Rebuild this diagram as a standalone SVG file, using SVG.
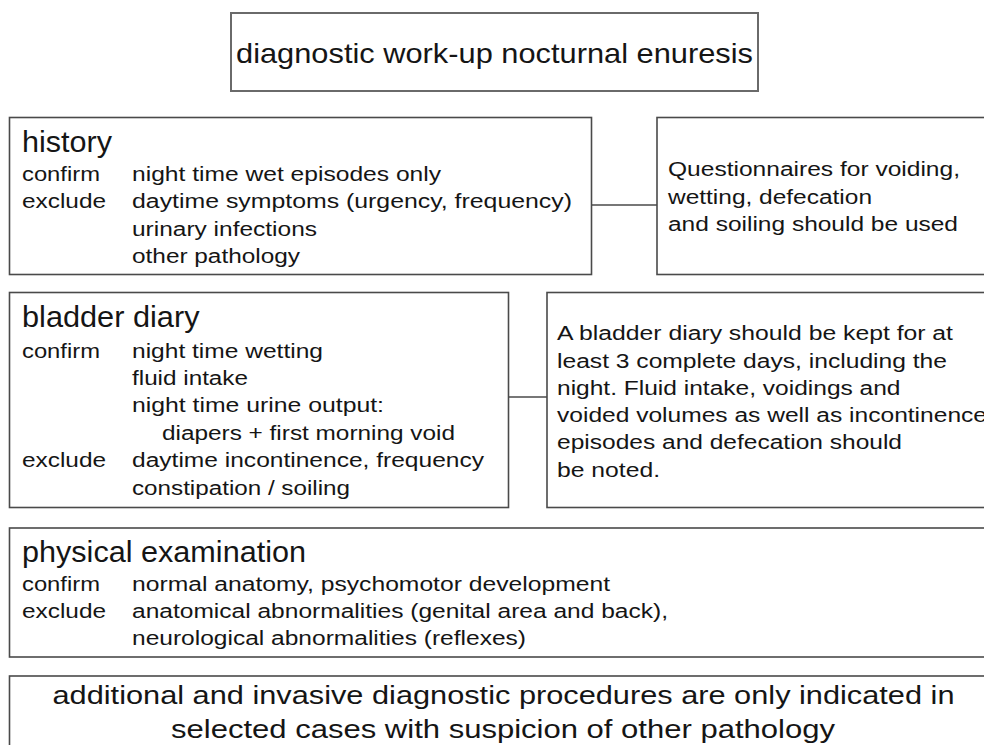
<svg xmlns="http://www.w3.org/2000/svg" width="984" height="745" viewBox="0 0 984 745">
<style>
rect.box{fill:#fff;stroke:#4a4a4a;stroke-width:1.6}
rect.title{fill:#fff;stroke:#6a6a6a;stroke-width:2}
line.conn{stroke:#4a4a4a;stroke-width:1.6}
text{font-family:"Liberation Sans",Arial,sans-serif;fill:#151515}
.s{font-size:19.5px}
.h{font-size:29px}
.t{font-size:28px}
.b{font-size:26px}
</style>
<rect width="984" height="745" fill="#fff"/>
<g id="connectors">
<line class="conn" x1="592" y1="205" x2="657" y2="205"/>
<line class="conn" x1="508" y1="397" x2="547" y2="397"/>
</g>
<g id="title">
<rect class="title" x="231" y="13" width="527" height="78"/>
<text class="t" x="236" y="63" textLength="517" lengthAdjust="spacingAndGlyphs">diagnostic work-up nocturnal enuresis</text>
</g>
<g id="history">
<rect class="box" x="9.5" y="117.5" width="582" height="157"/>
<text class="h" x="22" y="152" textLength="90" lengthAdjust="spacingAndGlyphs">history</text>
<text class="s" x="22" y="181" textLength="78" lengthAdjust="spacingAndGlyphs">confirm</text>
<text class="s" x="132" y="181" textLength="309" lengthAdjust="spacingAndGlyphs">night time wet episodes only</text>
<text class="s" x="22" y="208" textLength="84" lengthAdjust="spacingAndGlyphs">exclude</text>
<text class="s" x="132" y="208" textLength="440" lengthAdjust="spacingAndGlyphs">daytime symptoms (urgency, frequency)</text>
<text class="s" x="132" y="235.5" textLength="185" lengthAdjust="spacingAndGlyphs">urinary infections</text>
<text class="s" x="132" y="263" textLength="168" lengthAdjust="spacingAndGlyphs">other pathology</text>
</g>
<g id="questionnaires">
<rect class="box" x="657" y="117.5" width="340" height="157"/>
<text class="s" x="668" y="176" textLength="292" lengthAdjust="spacingAndGlyphs">Questionnaires for voiding,</text>
<text class="s" x="668" y="203.5" textLength="204" lengthAdjust="spacingAndGlyphs">wetting, defecation</text>
<text class="s" x="668" y="231" textLength="290" lengthAdjust="spacingAndGlyphs">and soiling should be used</text>
</g>
<g id="bladder-diary">
<rect class="box" x="9.5" y="292.5" width="499" height="215"/>
<text class="h" x="22" y="326.5" textLength="177.5" lengthAdjust="spacingAndGlyphs">bladder diary</text>
<text class="s" x="22" y="357.5" textLength="78" lengthAdjust="spacingAndGlyphs">confirm</text>
<text class="s" x="132" y="357.5" textLength="191" lengthAdjust="spacingAndGlyphs">night time wetting</text>
<text class="s" x="132" y="385" textLength="116" lengthAdjust="spacingAndGlyphs">fluid intake</text>
<text class="s" x="132" y="412" textLength="252" lengthAdjust="spacingAndGlyphs">night time urine output:</text>
<text class="s" x="162" y="439.5" textLength="293" lengthAdjust="spacingAndGlyphs">diapers + first morning void</text>
<text class="s" x="22" y="467" textLength="84" lengthAdjust="spacingAndGlyphs">exclude</text>
<text class="s" x="132" y="467" textLength="352" lengthAdjust="spacingAndGlyphs">daytime incontinence, frequency</text>
<text class="s" x="132" y="495" textLength="218" lengthAdjust="spacingAndGlyphs">constipation / soiling</text>
</g>
<g id="bladder-note">
<rect class="box" x="547" y="292.5" width="450" height="215"/>
<text class="s" x="557" y="340" textLength="396" lengthAdjust="spacingAndGlyphs">A bladder diary should be kept for at</text>
<text class="s" x="557" y="367.5" textLength="390" lengthAdjust="spacingAndGlyphs">least 3 complete days, including the</text>
<text class="s" x="557" y="395" textLength="343.5" lengthAdjust="spacingAndGlyphs">night. Fluid intake, voidings and</text>
<text class="s" x="557" y="422" textLength="430" lengthAdjust="spacingAndGlyphs">voided volumes as well as incontinence</text>
<text class="s" x="557" y="449" textLength="345" lengthAdjust="spacingAndGlyphs">episodes and defecation should</text>
<text class="s" x="557" y="476.5" textLength="103" lengthAdjust="spacingAndGlyphs">be noted.</text>
</g>
<g id="physical-examination">
<rect class="box" x="9.5" y="528" width="990" height="129"/>
<text class="h" x="22" y="562" textLength="284" lengthAdjust="spacingAndGlyphs">physical examination</text>
<text class="s" x="22" y="591" textLength="78" lengthAdjust="spacingAndGlyphs">confirm</text>
<text class="s" x="132" y="591" textLength="478" lengthAdjust="spacingAndGlyphs">normal anatomy, psychomotor development</text>
<text class="s" x="22" y="617.5" textLength="84" lengthAdjust="spacingAndGlyphs">exclude</text>
<text class="s" x="132" y="617.5" textLength="536" lengthAdjust="spacingAndGlyphs">anatomical abnormalities (genital area and back),</text>
<text class="s" x="132" y="645" textLength="394" lengthAdjust="spacingAndGlyphs">neurological abnormalities (reflexes)</text>
</g>
<g id="additional">
<rect class="box" x="9.5" y="676" width="990" height="90"/>
<text class="b" x="52.5" y="704" textLength="902" lengthAdjust="spacingAndGlyphs">additional and invasive diagnostic procedures are only indicated in</text>
<text class="b" x="171" y="737.5" textLength="664" lengthAdjust="spacingAndGlyphs">selected cases with suspicion of other pathology</text>
</g>
</svg>
